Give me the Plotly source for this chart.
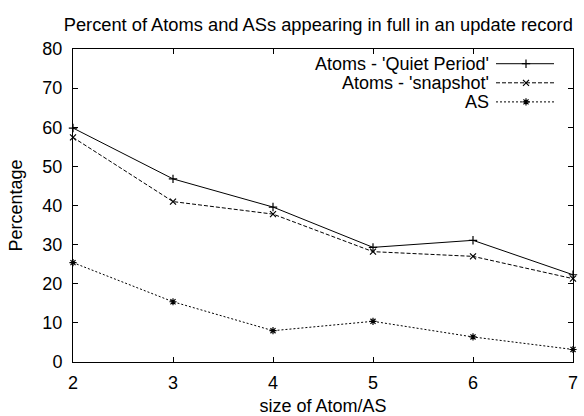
import plotly.graph_objects as go

sizes = [2, 3, 4, 5, 6, 7]
quiet_period = [59.8, 46.8, 39.6, 29.3, 31.1, 22.3]
snapshot = [57.4, 41.0, 37.8, 28.2, 27.0, 21.3]
as_values = [25.4, 15.4, 8.0, 10.4, 6.4, 3.2]

series = [
    ("Atoms - 'Quiet Period'", quiet_period, "solid", "cross-thin"),
    ("Atoms - 'snapshot'", snapshot, "4px,2px", "x-thin"),
    ("AS", as_values, "2px,2px", "asterisk"),
]

FONT = "Liberation Sans, Arial, sans-serif"

fig = go.Figure()
for name, vals, dash, sym in series:
    fig.add_trace(go.Scatter(
        x=sizes, y=vals, name=name, mode="lines+markers",
        line=dict(color="black", width=1, dash=dash),
        marker=dict(symbol=sym, size=6, color="black", line=dict(color="black", width=1.2)),
        showlegend=False, cliponaxis=False,
    ))

# gnuplot-style key: right-aligned label, sample on the right
for i, (name, vals, dash, sym) in enumerate(series):
    y = 0.953 - i * 0.061
    fig.add_annotation(xref="paper", yref="paper", x=0.836, y=y, text=name,
                       showarrow=False, xanchor="right", yanchor="middle",
                       font=dict(family=FONT, size=18, color="black"))
    fig.add_shape(type="line", xref="paper", yref="paper", x0=0.846, x1=0.962, y0=y, y1=y,
                  line=dict(color="black", width=1, dash=dash))
    fig.add_trace(go.Scatter(x=[0.906], y=[y], xaxis="x2", yaxis="y2", mode="markers",
                             marker=dict(symbol=sym, size=6, color="black",
                                         line=dict(color="black", width=1.2)),
                             showlegend=False, hoverinfo="skip"))

axis_common = dict(
    showline=True, linecolor="black", linewidth=1, mirror="allticks",
    ticks="inside", ticklen=5, tickcolor="black", showgrid=False, zeroline=False,
    automargin=False,
    tickfont=dict(family=FONT, size=18, color="black"),
)

fig.update_layout(
    width=584, height=416,
    margin=dict(l=73, r=11, t=49, b=54),
    paper_bgcolor="white", plot_bgcolor="white",
    title=dict(text="Percent of Atoms and ASs appearing in full in an update record",
               x=0.545, xanchor="center", y=0.94, yanchor="middle",
               font=dict(family=FONT, size=18.3, color="black")),
    xaxis=dict(range=[2, 7], dtick=1, ticklabelstandoff=4, **axis_common,
               title=dict(text="size of Atom/AS",
                          font=dict(family=FONT, size=18, color="black"))),
    yaxis=dict(range=[0, 80], dtick=10, ticklabelstandoff=6, **axis_common,
               title=dict(text="Percentage",
                          font=dict(family=FONT, size=18, color="black"))),
    xaxis2=dict(range=[0, 1], overlaying="x", visible=False),
    yaxis2=dict(range=[0, 1], overlaying="y", visible=False),
)

fig.write_html("out.html", config={"displayModeBar": False},
               post_script="document.body.style.margin='0';document.body.style.padding='0';")
